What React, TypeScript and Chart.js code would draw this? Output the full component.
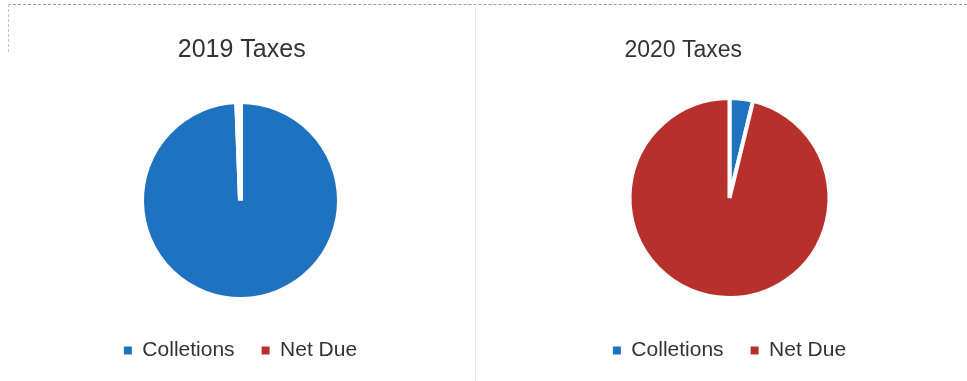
import React, { useEffect, useRef } from "react";
import { Chart, registerables } from "chart.js";

Chart.register(...registerables);

const categories = ["Colletions", "Net Due"];
const values2019 = [99.4, 0.6];
const values2020 = [3.8, 96.2];
const titles = ["2019 Taxes", "2020 Taxes"];
const colors = ["#1f72c0", "#b7302c"];

const FONT = "'Liberation Sans', Arial, sans-serif";

const titlePlugin = {
  id: "panelTitle",
  afterDraw(chart: any, _args: any, opts: any) {
    const ctx = chart.ctx;
    ctx.save();
    ctx.font = `${opts.size}px ${FONT}`;
    ctx.fillStyle = "#333333";
    ctx.textAlign = "center";
    ctx.textBaseline = "alphabetic";
    ctx.fillText(opts.text, opts.x, opts.y);
    ctx.restore();
  },
};

type PanelProps = {
  values: number[];
  title: string;
  titleSize: number;
  titleX: number;
  left: number;
  width: number;
  padTop: number;
  radius: number;
  border: number;
};

function PiePanel({ values, title, titleSize, titleX, left, width, padTop, radius, border }: PanelProps) {
  const ref = useRef<HTMLCanvasElement | null>(null);
  useEffect(() => {
    if (!ref.current) return;
    const chart = new Chart(ref.current, {
      type: "pie",
      data: {
        labels: categories,
        datasets: [
          {
            data: values,
            backgroundColor: colors,
            borderColor: "#ffffff",
            borderWidth: border,
          },
        ],
      },
      options: {
        responsive: false,
        animation: false,
        radius: radius,
        layout: { padding: { top: padTop, bottom: 0, left: 0, right: 0 } },
        plugins: {
          title: { display: false },
          tooltip: { enabled: false },
          legend: {
            display: true,
            position: "bottom",
            labels: {
              boxWidth: 8,
              boxHeight: 8,
              padding: 27,
              color: "#333333",
              font: { family: FONT, size: 21 },
              generateLabels: (c: any) =>
                c.data.labels.map((l: string, i: number) => ({
                  text: l,
                  fillStyle: colors[i],
                  strokeStyle: colors[i],
                  lineWidth: 0,
                  hidden: false,
                  index: i,
                  fontColor: "#333333",
                })),
            },
          },
          panelTitle: { text: title, x: titleX, y: 56.7, size: titleSize },
        } as any,
      } as any,
      plugins: [titlePlugin],
    });
    return () => chart.destroy();
  }, []);
  return (
    <canvas
      ref={ref}
      width={width}
      height={371}
      style={{ position: "absolute", left, top: 0, width, height: 371 }}
    />
  );
}

export default function App() {
  return (
    <div
      style={{
        position: "fixed",
        left: 0,
        top: 0,
        width: 967,
        height: 381,
        background: "#ffffff",
        overflow: "hidden",
      }}
    >
      <div style={{ position: "absolute", left: 8, top: 4, width: 959, borderTop: "1px dashed #999999" }} />
      <div style={{ position: "absolute", left: 8, top: 4, height: 48, borderLeft: "1px dashed #c4c4c4" }} />
      <div style={{ position: "absolute", left: 475, top: 4, height: 377, borderLeft: "1px dotted #dedede" }} />
      <PiePanel
        values={values2019}
        title={titles[0]}
        titleSize={25}
        titleX={241.7}
        left={0}
        width={481}
        padTop={88}
        radius={99}
        border={5}
      />
      <PiePanel
        values={values2020}
        title={titles[1]}
        titleSize={23}
        titleX={191.3}
        left={492}
        width={475}
        padTop={83}
        radius={100}
        border={4}
      />
    </div>
  );
}
